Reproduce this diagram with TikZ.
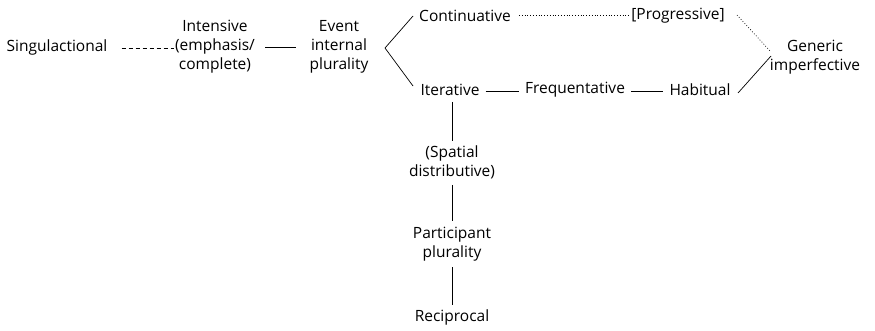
\documentclass[tikz,border=0pt]{standalone}
\usepackage{fontspec}
\setmainfont{Open Sans}
\begin{document}
\begin{tikzpicture}[x=1pt,y=-1pt,
  lbl/.style={inner sep=0pt,align=center,font=\fontsize{15.5}{19}\selectfont},
  link/.style={line width=0.7pt},
  dashlink/.style={line width=0.7pt,dash pattern=on 4pt off 3pt},
  dotlink/.style={line width=0.7pt,dash pattern=on 0.8pt off 2pt}]
\useasboundingbox (0,0) rectangle (875,330);
% upper row: from the singular to event-internal plurality
\node[lbl] (sing) at (57,47) {Singulactional};
\node[lbl] (int) at (215,47) {Intensive\\(emphasis/\\complete)};
\node[lbl] (evt) at (339,47) {Event\\internal\\plurality};
% branches
\node[lbl] (cont) at (465,16) {Continuative};
\node[lbl] (prog) at (678,16) {[Progressive]};
\node[lbl] (iter) at (450,90) {Iterative};
\node[lbl] (freq) at (575,90) {Frequentative};
\node[lbl] (hab) at (700,90) {Habitual};
\node[lbl] (gen) at (815,57) {Generic\\imperfective};
% downward chain
\node[lbl] (spat) at (452,162) {(Spatial\\distributive)};
\node[lbl] (part) at (452,244) {Participant\\plurality};
\node[lbl] (rec) at (452,317) {Reciprocal};
% vertex of the fork and end points of the diagonal strokes
\coordinate (fork) at (385,48);
\coordinate (forkT) at (413,16);
\coordinate (forkB) at (413,86);
\coordinate (genT) at (771,52);
\coordinate (genB) at (771,56);
\coordinate (progE) at (737,15);
\coordinate (habE) at (738,93);
% connectors
\draw[dashlink] ([xshift=14pt,yshift=-1pt]sing.east) -- ([xshift=-1pt,yshift=-1pt]int.west);
\draw[link] ([xshift=10pt]int.east) -- ([xshift=-13pt]evt.west);
\draw[link] (forkT) -- (fork) -- (forkB);
\draw[dotlink] ([xshift=8pt,yshift=1pt]cont.east) -- ([xshift=-2pt,yshift=1pt]prog.west);
\draw[dotlink] (progE) -- (genT);
\draw[link] (habE) -- (genB);
\draw[link] ([xshift=6pt,yshift=-1pt]iter.east) -- ([xshift=-6pt,yshift=-1pt]freq.west);
\draw[link] ([xshift=6pt,yshift=-1pt]freq.east) -- ([xshift=-6pt,yshift=-1pt]hab.west);
\draw[link] ([yshift=-6pt]iter.south -| spat.north) -- ([yshift=4pt]spat.north);
\draw[link] ([yshift=-6pt]spat.south) -- ([yshift=6pt]part.north);
\draw[link] ([yshift=-6pt]part.south) -- ([yshift=4pt]rec.north);
\end{tikzpicture}
\end{document}
